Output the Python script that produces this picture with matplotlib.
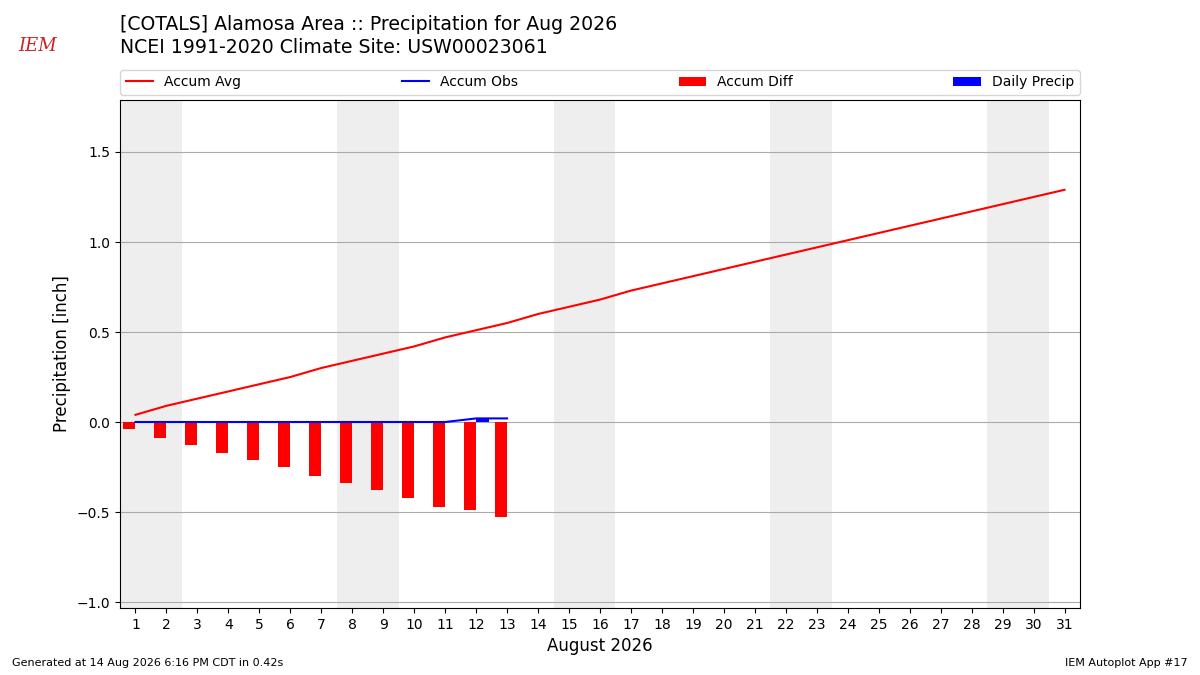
import matplotlib
matplotlib.use("Agg")
import matplotlib.pyplot as plt
import numpy as np

days = list(range(1, 32))
accum_avg = [0.04, 0.09, 0.13, 0.17, 0.21, 0.25, 0.30, 0.34, 0.38, 0.42, 0.47,
             0.51, 0.55, 0.60, 0.64, 0.68, 0.73, 0.77, 0.81, 0.85, 0.89, 0.93,
             0.97, 1.01, 1.05, 1.09, 1.13, 1.17, 1.21, 1.25, 1.29]
obs_days = list(range(1, 14))
daily_precip = [0, 0, 0, 0, 0, 0, 0, 0, 0, 0, 0, 0.02, 0.0]
accum_obs = list(np.cumsum(daily_precip))
accum_diff = [o - a for o, a in zip(accum_obs, accum_avg[:len(obs_days)])]
weekend_starts = [1, 8, 15, 22, 29]

title = "[COTALS] Alamosa Area :: Precipitation for Aug 2026\nNCEI 1991-2020 Climate Site: USW00023061"

fig = plt.figure(figsize=(12, 6.75), dpi=100)
ax = fig.add_axes([0.1, 0.0993, 0.8, 0.7526])

for s in weekend_starts:
    ax.axvspan(s - 0.5, s + 1.5, color="#eeeeee", zorder=0, lw=0)

ax.plot(days, accum_avg, color="red", lw=1.5, label="Accum Avg", zorder=3)
ax.plot(obs_days, accum_obs, color="blue", lw=1.5, label="Accum Obs", zorder=3)
ax.bar(obs_days, accum_diff, width=-0.4, align="edge", color="red",
       label="Accum Diff", zorder=2)
ax.bar(obs_days, daily_precip, width=0.4, align="edge", color="blue",
       label="Daily Precip", zorder=2)

ax.set_xlim(0.5, 31.5)
ax.set_ylim(-1.033, 1.789)
ax.set_xticks(days)
ax.set_xticklabels([str(d) for d in days], fontsize=10)
ax.set_yticks([-1.0, -0.5, 0.0, 0.5, 1.0, 1.5])
ax.set_yticklabels(["\u22121.0", "\u22120.5", "0.0", "0.5", "1.0", "1.5"], fontsize=10)
ax.yaxis.grid(True, color="#aaaaaa", lw=0.8, zorder=1)
ax.set_axisbelow(True)
ax.set_ylabel("Precipitation [inch]", fontsize=12)
ax.set_xlabel("August 2026", fontsize=12)

ax.legend(loc="lower left", bbox_to_anchor=(0.0, 1.01, 1.0, 0.06), ncol=4,
          mode="expand", borderaxespad=0, fontsize=10, handlelength=2.0)

fig.text(0.1, 0.978, title, fontsize=13.6, va="top", ha="left", linespacing=1.25)
fig.text(0.01, 0.01, "Generated at 14 Aug 2026 6:16 PM CDT in 0.42s", fontsize=8, ha="left", va="bottom")
fig.text(0.99, 0.01, "IEM Autoplot App #17", fontsize=8, ha="right", va="bottom")
fig.text(0.031, 0.932, "IEM", fontsize=13, color="#d02020", style="italic",
         family="DejaVu Serif", ha="center", va="center")

fig.savefig("out.png", dpi=100)
